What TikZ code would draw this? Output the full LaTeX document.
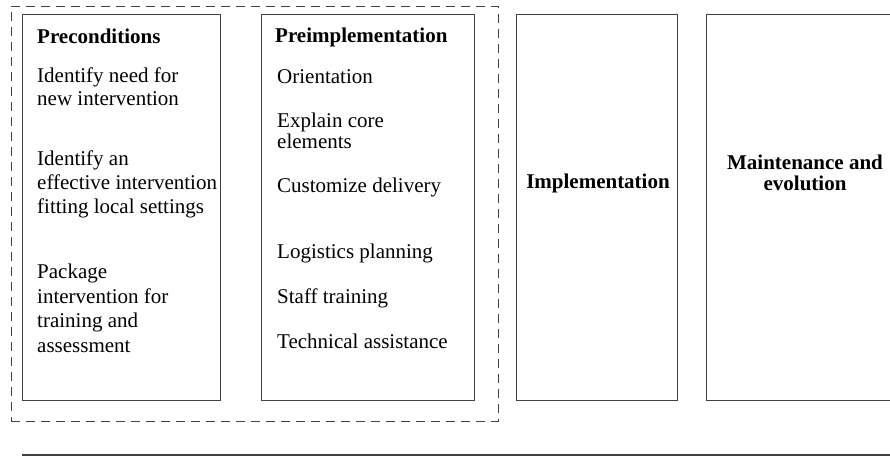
\documentclass[tikz,border=0pt]{standalone}
\usepackage{fontspec}
\setmainfont{Liberation Serif}
\begin{document}
\begin{tikzpicture}[x=1pt,y=-1pt,
  stagebox/.style={draw=black!75,line width=1.3pt,fill=none,inner sep=0pt,anchor=north west},
  groupbox/.style={draw=black!75,line width=0.9pt,dashed,dash pattern=on 9pt off 6pt,inner sep=0pt,anchor=north west},
  itemtext/.style={anchor=base west,inner sep=0pt,font=\fontsize{21}{24}\selectfont},
  headtext/.style={itemtext,font=\fontsize{21}{24}\selectfont\bfseries},
  stagetitle/.style={align=center,inner sep=0pt,font=\fontsize{21}{21}\selectfont\bfseries}]
\useasboundingbox (0,0) rectangle (890,460);
\clip (0,0) rectangle (890,460);

% dashed frame around the first two stages
\node[groupbox,minimum width=487pt,minimum height=415pt] (group) at (11,6) {};

% the four stage boxes
\node[stagebox,minimum width=198pt,minimum height=386pt] (pre) at (22,14) {};
\node[stagebox,minimum width=213pt,minimum height=386pt] (preimp) at (261,14) {};
\node[stagebox,minimum width=161pt,minimum height=386pt] (impl) at (516,14) {};
\node[stagebox,minimum width=198pt,minimum height=386pt] (maint) at (706,14) {};

% Preconditions
\node[headtext] (preH) at (37,44) {Preconditions};
\node[itemtext] (pre1a) at (37,82) {Identify need for};
\node[itemtext] (pre1b) at (37,105) {new intervention};
\node[itemtext] (pre2a) at (37,165) {Identify an};
\node[itemtext] (pre2b) at (37,189) {effective intervention};
\node[itemtext] (pre2c) at (37,213) {fitting local settings};
\node[itemtext] (pre3a) at (37,278) {Package};
\node[itemtext] (pre3b) at (37,303) {intervention for};
\node[itemtext] (pre3c) at (37,327) {training and};
\node[itemtext] (pre3d) at (37,352) {assessment};

% Preimplementation
\node[headtext] (impH) at (275,42) {Preimplementation};
\node[itemtext] (imp1) at (277,83) {Orientation};
\node[itemtext] (imp2a) at (277,127) {Explain core};
\node[itemtext] (imp2b) at (277,148) {elements};
\node[itemtext] (imp3) at (277,192) {Customize delivery};
\node[itemtext] (imp4) at (277,258) {Logistics planning};
\node[itemtext] (imp5) at (277,303) {Staff training};
\node[itemtext] (imp6) at (277,348) {Technical assistance};

% Implementation and maintenance titles
\node[stagetitle] (implT) at (598,183) {Implementation};
\node[stagetitle] (maintT) at (805,173) {Maintenance and\\evolution};

% rule below the stages
\coordinate (ruleL) at (22,455);
\coordinate (ruleR) at (890,455);
\draw[draw=black!75,line width=1.3pt] (ruleL) -- (ruleR);
\end{tikzpicture}
\end{document}
